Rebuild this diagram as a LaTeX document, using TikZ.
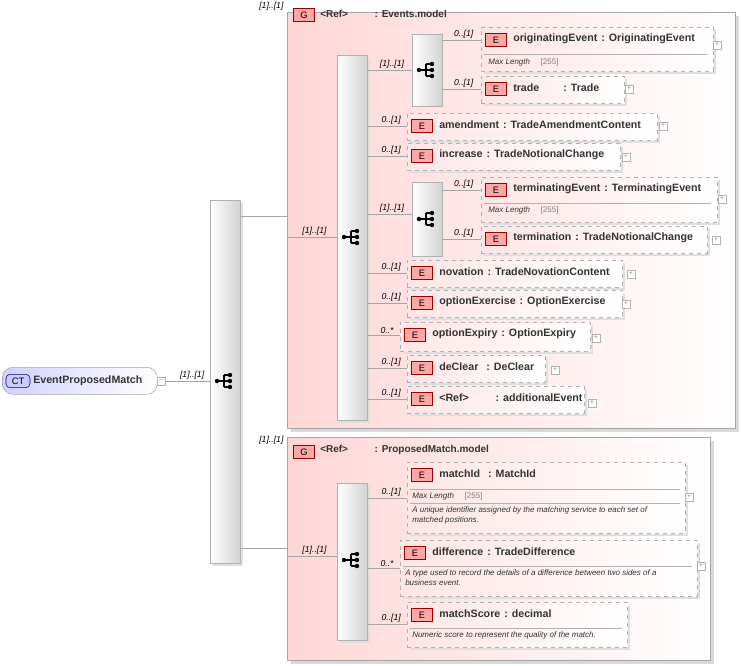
\documentclass[tikz,border=0pt]{standalone}
\usepackage{fontspec}
\setmainfont{Liberation Sans}
\usetikzlibrary{calc,positioning}
\tikzset{>=latex}
\tikzstyle{grp}=[rectangle,draw=gray!70,left color=red!16,right color=white,thick,anchor=north west,inner sep=0pt]
\tikzstyle{seqbox}=[rectangle,draw=gray!60,left color=white,right color=gray!35,anchor=north west,inner sep=0pt]
\tikzstyle{elem}=[rectangle,draw=gray!60,dashed,left color=red!10,right color=white,anchor=north west,inner sep=0pt]
\tikzstyle{tag}=[rectangle,draw=red!60!black,fill=red!35,minimum width=16pt,minimum height=10pt,inner sep=0pt,font=\fontsize{7}{8}\selectfont]
\tikzstyle{title}=[anchor=west,inner sep=0pt,font=\fontsize{8}{9}\selectfont\bfseries,text=black!80]
\tikzstyle{card}=[anchor=south,inner sep=1pt,font=\fontsize{6.5}{7}\selectfont\itshape]
\tikzstyle{note}=[anchor=north west,inner sep=0pt,font=\fontsize{6}{7.5}\selectfont\itshape,text=black!80,align=left]
\tikzstyle{plus}=[rectangle,draw=gray!60,fill=white,minimum size=6pt,inner sep=0pt,font=\fontsize{5}{5}\selectfont,text=gray]
\tikzstyle{wire}=[draw=gray!70]

% element: id, x, y, w, h, title, plus x, plus y (no plus if x = 0)
\newcommand{\elembox}[8]{
	\fill[gray!25] (#2+3,#3+3) rectangle ++(#4,#5);
	\node[elem,minimum width=#4*0.75pt,minimum height=#5*0.75pt] (#1) at (#2,#3) {};
	\node[tag] (#1t) at (#2+15,#3+13) {E};
	\node[title] (#1n) at (#2+32,#3+12) {#6};
	\ifnum#7>0 \node[plus] (#1p) at (#7,#8) {+}; \fi
}
\newcommand{\seqicon}[2]{
	\fill (#1-7,#2) circle (2.2);
	\draw[thick] (#1-7,#2) -- (#1,#2) (#1,#2-6) -- (#1,#2+6) (#1,#2-6) -- (#1+5,#2-6) (#1,#2+6) -- (#1+5,#2+6) (#1,#2) -- (#1+5,#2);
	\foreach \k in {-6,0,6} \fill (#1+6,#2+\k) circle (2.2);
}

\begin{document}
\begin{tikzpicture}[x=0.75pt,y=-0.75pt]
\useasboundingbox (0,0) rectangle (741,665);

% complex type
\node[rectangle,draw=gray!70,left color=blue!18,right color=white,rounded corners=8pt,minimum width=155*0.75pt,minimum height=27*0.75pt,anchor=north west,inner sep=0pt] (ct) at (2,367) {};
\node[rectangle,draw=blue!50!black,fill=blue!20,rounded corners=3pt,minimum width=18pt,minimum height=10pt,inner sep=0pt,font=\fontsize{7}{8}\selectfont] (ctt) at (18,381) {CT};
\node[title] (ctn) at (33,381) {EventProposedMatch};
\node[plus] (ctm) at (161,381) {--};

% main sequence
\fill[gray!25] (213,203) rectangle ++(30,363);
\node[seqbox,minimum width=30*0.75pt,minimum height=363*0.75pt] (seq) at (210,200) {};
\seqicon{224}{381}
\draw[wire] (ctm) -- (seq.west |- ctm) node[card,pos=0.6] {[1]..[1]};

% group 1
\fill[gray!30] (291,16) rectangle (739,432);
\node[grp,minimum width=448*0.75pt,minimum height=416*0.75pt] (g1) at (287,12) {};
\node[tag] (g1t) at (304,15) {G};
\node[title,font=\fontsize{7.5}{9}\selectfont\bfseries] (g1n) at (320,14) {<Ref>\hspace{20pt}: Events.model};
\node[card,anchor=south east] at (285,12) {[1]..[1]};
\draw[wire] (seq.east |- 0,216) -- (g1.west |- 0,216);

\fill[gray!25] (340,58) rectangle ++(30,365);
\node[seqbox,minimum width=30*0.75pt,minimum height=365*0.75pt] (s1) at (337,55) {};
\seqicon{351}{237}
\draw[wire] (g1.west |- 0,237) -- (s1.west |- 0,237) node[card,pos=0.55] {[1]..[1]};

% choice 1
\node[seqbox,minimum width=30*0.75pt,minimum height=72*0.75pt] (c1) at (412,34) {};
\seqicon{426}{70}
\draw[wire] (s1.east |- c1) -- (c1) node[card,pos=0.55] {[1]..[1]};
\elembox{oe}{481}{27}{232}{44}{originatingEvent\hspace{3pt}: OriginatingEvent}{717}{45}
\draw[gray!60] (484,54) -- (707,54);
\node[note] at (488,58) {Max Length\hspace{8pt}{\upshape\color{gray}[255]}};
\elembox{tr}{481}{76}{143}{27}{trade\hspace{18pt}: Trade}{629}{89}
\draw[wire] (c1.east |- oet) -- (oe.west |- oet) node[card,pos=0.55] {0..[1]};
\draw[wire] (c1.east |- trt) -- (tr.west |- trt) node[card,pos=0.55] {0..[1]};

\elembox{am}{407}{113}{250}{27}{amendment\hspace{3pt}: TradeAmendmentContent}{663}{126}
\elembox{in}{407}{143}{213}{27}{increase\hspace{3pt}: TradeNotionalChange}{626}{157}
\draw[wire] (s1.east |- amt) -- (am.west |- amt) node[card,pos=0.6] {0..[1]};
\draw[wire] (s1.east |- int) -- (in.west |- int) node[card,pos=0.6] {0..[1]};

% choice 2
\node[seqbox,minimum width=30*0.75pt,minimum height=74*0.75pt] (c2) at (412,182) {};
\seqicon{426}{219}
\draw[wire] (s1.east |- 0,214) -- (c2.west |- 0,214) node[card,pos=0.55] {[1]..[1]};
\elembox{te}{481}{177}{236}{45}{terminatingEvent\hspace{3pt}: TerminatingEvent}{722}{199}
\draw[gray!60] (484,203) -- (711,203);
\node[note] at (488,206) {Max Length\hspace{8pt}{\upshape\color{gray}[255]}};
\elembox{tm}{481}{226}{226}{27}{termination\hspace{3pt}: TradeNotionalChange}{716}{240}
\draw[wire] (c2.east |- tet) -- (te.west |- tet) node[card,pos=0.55] {0..[1]};
\draw[wire] (c2.east |- tmt) -- (tm.west |- tmt) node[card,pos=0.55] {0..[1]};

\elembox{nv}{407}{260}{215}{27}{novation\hspace{3pt}: TradeNovationContent}{631}{274}
\elembox{ox}{407}{290}{215}{27}{optionExercise\hspace{3pt}: OptionExercise}{626}{304}
\elembox{oy}{400}{322}{190}{29}{optionExpiry\hspace{3pt}: OptionExpiry}{596}{338}
\elembox{dc}{407}{355}{138}{27}{deClear\hspace{6pt}: DeClear}{555}{370}
\elembox{ae}{407}{386}{177}{27}{<Ref>\hspace{20pt}: additionalEvent}{592}{403}
\draw[wire] (s1.east |- nvt) -- (nv.west |- nvt) node[card,pos=0.6] {0..[1]};
\draw[wire] (s1.east |- oxt) -- (ox.west |- oxt) node[card,pos=0.6] {0..[1]};
\draw[wire] (s1.east |- oyt) -- (oy.west |- oyt) node[card,pos=0.6] {0..*};
\draw[wire] (s1.east |- dct) -- (dc.west |- dct) node[card,pos=0.6] {0..[1]};
\draw[wire] (s1.east |- aet) -- (ae.west |- aet) node[card,pos=0.6] {0..[1]};

% group 2
\fill[gray!30] (291,441) rectangle (714,664);
\node[grp,minimum width=423*0.75pt,minimum height=223*0.75pt] (g2) at (287,437) {};
\node[tag] (g2t) at (304,452) {G};
\node[title,font=\fontsize{7.5}{9}\selectfont\bfseries] (g2n) at (320,450) {<Ref>\hspace{20pt}: ProposedMatch.model};
\node[card,anchor=south east] at (285,446) {[1]..[1]};
\draw[wire] (seq.east |- 0,548) -- (g2.west |- 0,548);

\fill[gray!25] (340,486) rectangle ++(30,157);
\node[seqbox,minimum width=30*0.75pt,minimum height=157*0.75pt] (s2) at (337,483) {};
\seqicon{351}{560}
\draw[wire] (g2.west |- 0,556) -- (s2.west |- 0,556) node[card,pos=0.55] {[1]..[1]};

\elembox{mi}{407}{462}{278}{71}{matchId\hspace{6pt}: MatchId}{689}{497}
\draw[gray!60] (410,489) -- (680,489);
\node[note] at (412,492) {Max Length\hspace{8pt}{\upshape\color{gray}[255]}};
\draw[gray!60] (410,503) -- (680,503);
\node[note] at (412,506) {A unique identifier assigned by the matching service to each set of\\matched positions.};
\elembox{df}{400}{540}{297}{56}{difference\hspace{3pt}: TradeDifference}{701}{566}
\draw[gray!60] (403,566) -- (692,566);
\node[note] at (405,569) {A type used to record the details of a difference between two sides of a\\business event.};
\elembox{ms}{407}{602}{220}{45}{matchScore\hspace{3pt}: decimal}{0}{0}
\draw[gray!60] (410,628) -- (622,628);
\node[note] at (412,631) {Numeric score to represent the quality of the match.};
\draw[wire] (s2.east |- 0,498) -- (mi.west |- 0,498) node[card,pos=0.6] {0..[1]};
\draw[wire] (s2.east |- 0,568) -- (df.west |- 0,568) node[card,pos=0.6] {0..*};
\draw[wire] (s2.east |- 0,624) -- (ms.west |- 0,624) node[card,pos=0.6] {0..[1]};
\end{tikzpicture}
\end{document}
